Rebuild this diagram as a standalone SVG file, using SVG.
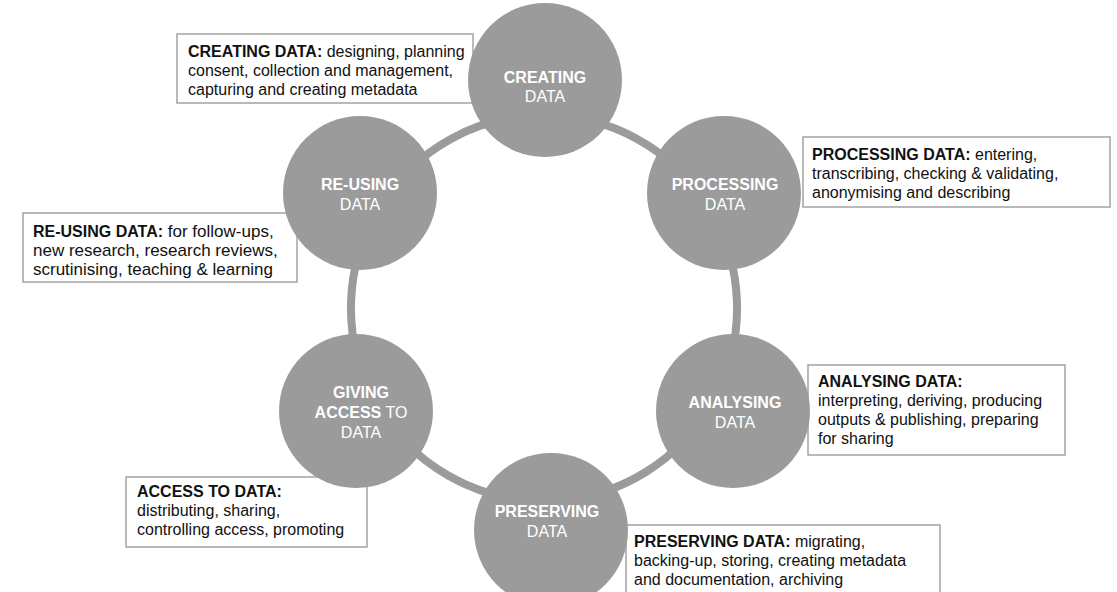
<svg xmlns="http://www.w3.org/2000/svg" width="1117" height="592" viewBox="0 0 1117 592">
  <style>
    .ring { fill: none; stroke: #9b9b9b; stroke-width: 8; }
    .node { fill: #9b9b9b; }
    .ntxt { font-family: "Liberation Sans", Arial, sans-serif; font-size: 16px; fill: #ffffff; text-anchor: middle; }
    .box { fill: #ffffff; stroke: #a3a3a3; stroke-width: 1.5; }
    .btxt { font-family: "Liberation Sans", Arial, sans-serif; font-size: 16px; fill: #111111; }
    .wide { font-size: 17px; }
    .b { font-weight: bold; font-size: 16px; }
  </style>
  <rect width="1117" height="592" fill="#ffffff"/>

  <g id="connectors">
    <path class="ring" d="M544,115 A193,193 0 0 1 706.6,204"/>
    <path class="ring" d="M706.6,204 A193,193 0 0 1 713.5,400.4"/>
    <path class="ring" d="M713.5,400.4 A193,193 0 0 1 550.7,500.9"/>
    <path class="ring" d="M550.7,500.9 A193,193 0 0 1 374.7,400.7"/>
    <path class="ring" d="M374.7,400.7 A193,193 0 0 1 380.3,205.7"/>
    <path class="ring" d="M380.3,205.7 A193,193 0 0 1 544,115"/>
  </g>

  <g id="box-creating">
    <rect class="box" x="177" y="34" width="296" height="69"/>
    <text class="btxt" x="188" y="57"><tspan class="b">CREATING DATA:</tspan> designing, planning</text>
    <text class="btxt" x="188" y="76">consent, collection and management,</text>
    <text class="btxt" x="188" y="95">capturing and creating metadata</text>
  </g>
  <g id="box-processing">
    <rect class="box" x="803" y="137" width="307" height="70"/>
    <text class="btxt" x="812" y="160"><tspan class="b">PROCESSING DATA:</tspan> entering,</text>
    <text class="btxt" x="812" y="179">transcribing, checking &amp; validating,</text>
    <text class="btxt" x="812" y="198">anonymising and describing</text>
  </g>
  <g id="box-reusing">
    <rect class="box" x="23" y="213" width="274" height="69"/>
    <text class="btxt wide" x="33" y="237"><tspan class="b">RE-USING DATA:</tspan> for follow-ups,</text>
    <text class="btxt wide" x="33" y="256">new research, research reviews,</text>
    <text class="btxt wide" x="33" y="275">scrutinising, teaching &amp; learning</text>
  </g>
  <g id="box-analysing">
    <rect class="box" x="808" y="365" width="257" height="90"/>
    <text class="btxt" x="818" y="387"><tspan class="b">ANALYSING DATA:</tspan></text>
    <text class="btxt" x="818" y="406">interpreting, deriving, producing</text>
    <text class="btxt" x="818" y="425">outputs &amp; publishing, preparing</text>
    <text class="btxt" x="818" y="444">for sharing</text>
  </g>
  <g id="box-access">
    <rect class="box" x="126" y="477" width="241" height="70"/>
    <text class="btxt" x="137" y="497"><tspan class="b">ACCESS TO DATA:</tspan></text>
    <text class="btxt" x="137" y="516">distributing, sharing,</text>
    <text class="btxt" x="137" y="535">controlling access, promoting</text>
  </g>
  <g id="box-preserving">
    <rect class="box" x="626" y="525" width="314" height="80"/>
    <text class="btxt" x="634" y="547"><tspan class="b">PRESERVING DATA:</tspan> migrating,</text>
    <text class="btxt" x="634" y="566">backing-up, storing, creating metadata</text>
    <text class="btxt" x="634" y="585">and documentation, archiving</text>
  </g>

  <g id="node-creating">
    <circle class="node" cx="545" cy="80" r="77"/>
    <text class="ntxt b" x="545" y="83">CREATING</text>
    <text class="ntxt" x="545" y="102">DATA</text>
  </g>
  <g id="node-processing">
    <circle class="node" cx="724" cy="193" r="77"/>
    <text class="ntxt b" x="725" y="190">PROCESSING</text>
    <text class="ntxt" x="725" y="210">DATA</text>
  </g>
  <g id="node-analysing">
    <circle class="node" cx="733" cy="411" r="77"/>
    <text class="ntxt b" x="735" y="408">ANALYSING</text>
    <text class="ntxt" x="735" y="428">DATA</text>
  </g>
  <g id="node-preserving">
    <circle class="node" cx="551" cy="530" r="77"/>
    <text class="ntxt b" x="547" y="517">PRESERVING</text>
    <text class="ntxt" x="547" y="537">DATA</text>
  </g>
  <g id="node-giving">
    <circle class="node" cx="356" cy="411" r="77"/>
    <text class="ntxt b" x="361" y="398">GIVING</text>
    <text class="ntxt" x="361" y="418"><tspan class="b">ACCESS</tspan> TO</text>
    <text class="ntxt" x="361" y="438">DATA</text>
  </g>
  <g id="node-reusing">
    <circle class="node" cx="360" cy="193" r="77"/>
    <text class="ntxt b" x="360" y="190">RE-USING</text>
    <text class="ntxt" x="360" y="210">DATA</text>
  </g>
</svg>
